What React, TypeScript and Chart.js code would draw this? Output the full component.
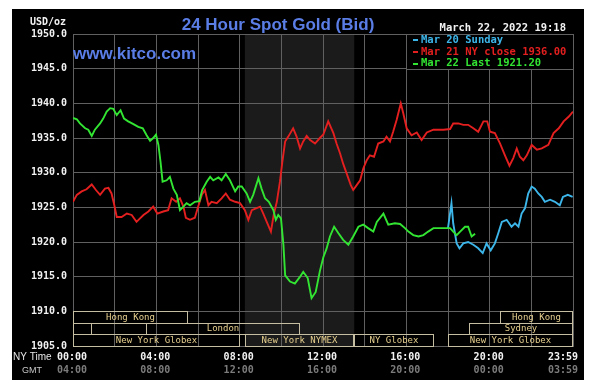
import React, { useEffect, useRef } from 'react';
import { Chart, registerables } from 'chart.js';

Chart.register(...registerables);

// ---------- data (minutes after 00:00 NY time, USD/oz) ----------
const redMinutes = [0, 11, 25, 39, 54, 66, 78, 92, 102, 111, 119, 126, 140, 155, 169, 183, 193, 203, 217, 231, 243, 260, 274, 284, 297, 308, 318, 325, 337, 351, 361, 371, 380, 390, 399, 414, 428, 440, 452, 467, 481, 495, 505, 515, 529, 539, 548, 558, 570, 578, 587, 596, 603, 611, 620, 634, 644, 654, 663, 673, 683, 697, 711, 721, 735, 750, 759, 769, 778, 788, 800, 807, 817, 827, 836, 846, 855, 867, 879, 894, 903, 913, 922, 932, 944, 951, 961, 975, 990, 1004, 1019, 1038, 1067, 1086, 1095, 1110, 1124, 1138, 1153, 1167, 1182, 1193, 1201, 1215, 1230, 1244, 1257, 1268, 1278, 1287, 1297, 1307, 1321, 1336, 1350, 1369, 1384, 1399, 1413, 1428, 1440];
const redValues = [1925.8, 1926.8, 1927.3, 1927.6, 1928.3, 1927.5, 1926.8, 1927.7, 1927.8, 1927.0, 1925.3, 1923.6, 1923.6, 1924.1, 1923.9, 1922.9, 1923.4, 1923.9, 1924.4, 1925.1, 1924.1, 1924.4, 1924.6, 1926.3, 1925.8, 1926.3, 1925.1, 1923.5, 1923.2, 1923.5, 1925.2, 1926.8, 1927.5, 1925.3, 1925.8, 1925.6, 1926.3, 1927.0, 1926.1, 1925.8, 1925.6, 1924.6, 1923.2, 1924.6, 1924.9, 1925.1, 1924.1, 1922.9, 1921.5, 1923.9, 1925.8, 1928.7, 1931.6, 1934.5, 1935.2, 1936.4, 1935.2, 1933.5, 1934.5, 1935.3, 1934.7, 1934.2, 1935.0, 1935.5, 1937.4, 1935.7, 1934.2, 1932.8, 1931.3, 1929.9, 1928.2, 1927.5, 1928.2, 1928.9, 1930.6, 1931.8, 1932.5, 1932.3, 1934.2, 1934.5, 1935.2, 1934.5, 1935.9, 1937.6, 1940.0, 1938.6, 1936.4, 1935.4, 1935.8, 1934.7, 1935.8, 1936.2, 1936.2, 1936.3, 1937.1, 1937.1, 1936.9, 1936.9, 1936.4, 1935.9, 1937.4, 1937.4, 1935.9, 1935.7, 1934.2, 1932.5, 1931.0, 1932.1, 1933.5, 1932.3, 1931.8, 1932.5, 1934.0, 1933.3, 1933.5, 1934.0, 1935.7, 1936.4, 1937.4, 1938.1, 1938.8];

const greenMinutes = [0, 11, 20, 35, 44, 54, 63, 78, 87, 97, 107, 116, 126, 137, 147, 159, 174, 188, 201, 212, 222, 231, 239, 246, 252, 258, 270, 279, 289, 299, 308, 318, 327, 337, 351, 364, 372, 385, 395, 404, 419, 428, 440, 452, 467, 476, 486, 500, 510, 519, 534, 543, 553, 564, 577, 584, 591, 599, 606, 611, 625, 639, 654, 663, 676, 687, 699, 711, 721, 730, 740, 752, 764, 778, 793, 807, 822, 836, 850, 865, 875, 894, 908, 927, 942, 956, 966, 980, 995, 1009, 1023, 1038, 1062, 1086, 1095, 1105, 1115, 1129, 1138, 1148, 1158];
const greenValues = [1937.9, 1937.7, 1937.1, 1936.4, 1936.2, 1935.3, 1936.2, 1937.1, 1937.8, 1938.8, 1939.3, 1939.2, 1938.3, 1939.0, 1937.8, 1937.4, 1937.0, 1936.6, 1936.4, 1935.4, 1934.6, 1935.0, 1935.5, 1934.0, 1931.6, 1928.7, 1928.9, 1929.4, 1927.7, 1926.8, 1924.6, 1925.1, 1925.6, 1925.3, 1925.8, 1925.9, 1927.5, 1928.7, 1929.4, 1928.9, 1929.3, 1928.9, 1929.8, 1928.9, 1927.3, 1928.0, 1928.0, 1927.0, 1925.8, 1926.8, 1929.2, 1927.7, 1926.3, 1925.8, 1924.6, 1923.2, 1923.9, 1923.4, 1919.6, 1915.2, 1914.3, 1914.0, 1915.0, 1915.7, 1914.8, 1911.9, 1912.8, 1915.8, 1917.8, 1919.0, 1920.8, 1922.2, 1921.3, 1920.3, 1919.6, 1920.8, 1922.2, 1922.5, 1922.0, 1921.5, 1922.9, 1924.1, 1922.5, 1922.7, 1922.6, 1922.0, 1921.5, 1921.0, 1920.8, 1921.0, 1921.5, 1922.0, 1922.0, 1922.0, 1921.5, 1921.0, 1921.5, 1922.2, 1922.2, 1920.8, 1921.2];

const cyanMinutes = [1080, 1090, 1095, 1105, 1113, 1124, 1138, 1153, 1167, 1180, 1191, 1203, 1215, 1225, 1235, 1249, 1263, 1273, 1283, 1292, 1302, 1311, 1321, 1330, 1340, 1350, 1359, 1374, 1388, 1402, 1411, 1425, 1439];
const cyanValues = [1922.0, 1925.6, 1922.7, 1919.8, 1919.1, 1919.8, 1920.0, 1919.6, 1919.1, 1918.4, 1919.8, 1918.8, 1919.8, 1921.3, 1922.9, 1923.2, 1922.2, 1922.7, 1922.2, 1924.1, 1924.9, 1927.0, 1928.0, 1927.7, 1927.0, 1926.5, 1925.8, 1926.1, 1925.8, 1925.3, 1926.5, 1926.8, 1926.5];

const legendLabels = ['Mar 20 Sunday', 'Mar 21 NY close 1936.00', 'Mar 22 Last 1921.20'];

const tickMinutes = [0, 240, 480, 720, 960, 1200, 1440];
const nyTimeLabels = ['00:00', '04:00', '08:00', '12:00', '16:00', '20:00', '23:59'];
const gmtLabels = ['04:00', '08:00', '12:00', '16:00', '20:00', '00:00', '03:59'];

const sessionNames = ['Hong Kong', 'Hong Kong', '', 'London', 'Sydney', 'New York Globex', 'New York NYMEX', 'NY Globex', 'New York Globex'];
const sessionRows = [0, 0, 1, 1, 1, 2, 2, 2, 2];
const sessionStarts = [0, 1230, 0, 210, 1140, 0, 495, 810, 1080];
const sessionEnds = [330, 1440, 55, 655, 1440, 480, 810, 1040, 1440];

const nymexStart = 495;
const nymexEnd = 810;

const Y_MIN = 1905;
const Y_MAX = 1950;

// ---------- styles ----------
const GRID = '#606060';
const RED = '#e41f1f';
const GREEN = '#33e533';
const CYAN = '#3db6ea';
const BLUE = '#5a7de6';
const MONO = '"DejaVu Sans Mono", monospace';

const toPts = (xs: number[], ys: number[]) => xs.map((x, i) => ({ x, y: ys[i] }));

const kitcoPlugin = {
  id: 'kitco',
  beforeDraw(chart: any) {
    const { ctx, chartArea: ca, scales } = chart;
    const xs = scales.x;
    ctx.save();
    ctx.fillStyle = '#ffffff';
    ctx.fillRect(0, 0, chart.width, chart.height);
    ctx.fillStyle = '#000000';
    ctx.fillRect(12, 9, 572, 371);
    const s0 = xs.getPixelForValue(nymexStart);
    const s1 = xs.getPixelForValue(nymexEnd);
    ctx.fillStyle = '#1b1b1b';
    ctx.fillRect(s0, ca.top, s1 - s0, ca.bottom - ca.top);
    ctx.restore();
  },
  beforeDatasetsDraw(chart: any) {
    const { ctx, scales } = chart;
    const xs = scales.x;
    const ys = scales.y;
    const top0 = ys.getPixelForValue(1910);
    const rowH = (ys.getPixelForValue(Y_MIN) - top0) / 3;
    ctx.save();
    ctx.lineWidth = 1;
    ctx.font = `9px ${MONO}`;
    ctx.textAlign = 'center';
    ctx.textBaseline = 'middle';
    sessionNames.forEach((name, i) => {
      const x0 = Math.round(xs.getPixelForValue(sessionStarts[i]));
      const x1 = Math.round(xs.getPixelForValue(sessionEnds[i]));
      const t = Math.round(top0 + sessionRows[i] * rowH);
      const b = Math.round(top0 + (sessionRows[i] + 1) * rowH);
      ctx.strokeStyle = '#c6bea2';
      ctx.strokeRect(x0 + 0.5, t + 0.5, x1 - x0 - 1, b - t);
      if (name) {
        ctx.fillStyle = '#e6cf8e';
        ctx.fillText(name, (x0 + x1) / 2, (t + b) / 2 + 0.5);
      }
    });
    ctx.restore();
  },
  afterDraw(chart: any) {
    const { ctx, scales } = chart;
    const xs = scales.x;
    const ys = scales.y;
    ctx.save();
    // legend box occupying the 16:00-24:00 / 1945-1950 cell
    const lx0 = Math.round(xs.getPixelForValue(960));
    const lx1 = Math.round(xs.getPixelForValue(1440));
    const ly0 = Math.round(ys.getPixelForValue(Y_MAX));
    const ly1 = Math.round(ys.getPixelForValue(1945));
    ctx.fillStyle = '#000';
    ctx.fillRect(lx0 + 1, ly0 + 1, lx1 - lx0 - 1, ly1 - ly0 - 1);
    ctx.strokeStyle = GRID;
    ctx.lineWidth = 1;
    ctx.strokeRect(lx0 + 0.5, ly0 + 0.5, lx1 - lx0, ly1 - ly0);
    const colors = [CYAN, RED, GREEN];
    ctx.font = `bold 10.5px ${MONO}`;
    ctx.textAlign = 'left';
    ctx.textBaseline = 'middle';
    legendLabels.forEach((lab, i) => {
      const cy = ly0 + ((ly1 - ly0) * (2 * i + 1)) / 6 + 0.5;
      ctx.fillStyle = colors[i];
      ctx.fillRect(lx0 + 7, Math.round(cy) - 1, 5, 2);
      ctx.fillText(lab, lx0 + 15, cy);
    });

    // titles
    ctx.fillStyle = BLUE;
    ctx.font = 'bold 17px "Liberation Sans", Arial, sans-serif';
    ctx.textBaseline = 'alphabetic';
    ctx.textAlign = 'center';
    ctx.fillText('24 Hour Spot Gold (Bid)', 278, 30);
    ctx.textAlign = 'left';
    ctx.fillText('www.kitco.com', 73, 59);

    ctx.fillStyle = '#f2f2f2';
    ctx.font = `bold 10px ${MONO}`;
    ctx.fillText('USD/oz', 30, 25);
    ctx.textAlign = 'right';
    ctx.font = `bold 10.5px ${MONO}`;
    ctx.fillText('March 22, 2022 19:18', 566, 31);

    // x-axis labels (NY time & GMT)
    ctx.font = `bold 10px ${MONO}`;
    tickMinutes.forEach((m, i) => {
      const px = xs.getPixelForValue(m);
      const last = i === tickMinutes.length - 1;
      ctx.textAlign = last ? 'right' : 'center';
      const ax = last ? px + 5 : px - 1;
      ctx.fillStyle = '#f2f2f2';
      ctx.fillText(nyTimeLabels[i], ax, 360);
      ctx.fillStyle = '#7c7c7c';
      ctx.fillText(gmtLabels[i], ax, 373);
    });
    ctx.textAlign = 'left';
    ctx.fillStyle = '#e6e6e6';
    ctx.font = '10px "Liberation Sans", Arial, sans-serif';
    ctx.fillText('NY Time', 13, 360);
    ctx.fillStyle = '#c8c8c8';
    ctx.font = '9px "Liberation Sans Narrow", "Liberation Sans", Arial, sans-serif';
    ctx.fillText('GMT', 22, 373);
    ctx.restore();
  },
};

export default function App() {
  const ref = useRef<HTMLCanvasElement>(null);

  useEffect(() => {
    const canvas = ref.current;
    if (!canvas) return;
    const chart = new Chart(canvas, {
      type: 'line',
      data: {
        datasets: [
          { label: legendLabels[2], data: toPts(greenMinutes, greenValues), borderColor: GREEN },
          { label: legendLabels[1], data: toPts(redMinutes, redValues), borderColor: RED },
          { label: legendLabels[0], data: toPts(cyanMinutes, cyanValues), borderColor: CYAN },
        ].map((d) => ({ ...d, borderWidth: 1.9, pointRadius: 0, fill: false, tension: 0 })),
      },
      options: {
        responsive: false,
        animation: false,
        events: [],
        layout: { padding: { left: 12, top: 34, right: 27, bottom: 10 } },
        plugins: { legend: { display: false }, tooltip: { enabled: false }, title: { display: false } },
        scales: {
          x: {
            type: 'linear',
            min: 0,
            max: 1440,
            ticks: { stepSize: 120, display: false },
            grid: { color: GRID, drawTicks: false, lineWidth: 1 },
            border: { color: GRID },
            afterFit: (s: any) => {
              s.height = 34;
            },
          },
          y: {
            type: 'linear',
            min: Y_MIN,
            max: Y_MAX,
            ticks: {
              stepSize: 5,
              padding: 6,
              color: '#f2f2f2',
              font: { family: 'DejaVu Sans Mono', size: 10, weight: 'bold' },
              callback: (v: any) => Number(v).toFixed(1),
            },
            grid: { color: GRID, drawTicks: false, lineWidth: 1 },
            border: { color: GRID },
            afterFit: (s: any) => {
              s.width = 61;
            },
          },
        },
      },
      plugins: [kitcoPlugin],
    } as any);
    return () => chart.destroy();
  }, []);

  return (
    <div style={{ position: 'absolute', left: 0, top: 0, width: 600, height: 390, background: '#fff' }}>
      <canvas ref={ref} width={600} height={390} style={{ display: 'block', width: 600, height: 390 }} />
    </div>
  );
}
